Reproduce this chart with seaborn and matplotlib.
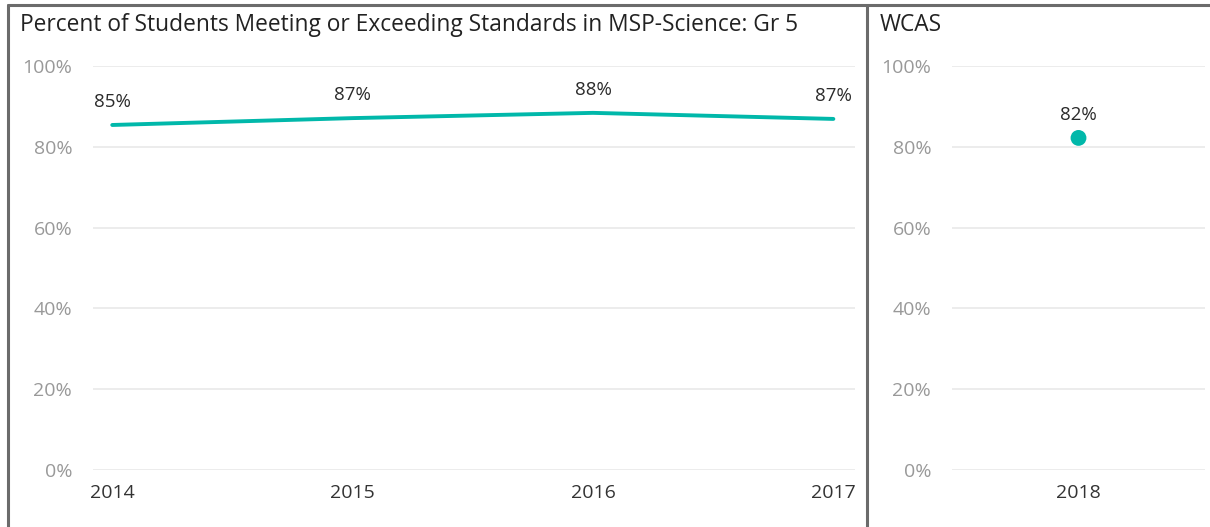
import matplotlib.pyplot as plt
import pandas as pd
import seaborn as sns
from matplotlib.lines import Line2D
from matplotlib.ticker import FuncFormatter

sns.set_style("white")
plt.rcParams["font.family"] = ["Open Sans", "DejaVu Sans"]

# Data
msp_years = ["2014", "2015", "2016", "2017"]
msp_pct = [85.4, 87.1, 88.4, 86.9]
msp_labels = ["85%", "87%", "88%", "87%"]
wcas_years = ["2018"]
wcas_pct = [82.2]
wcas_labels = ["82%"]
y_ticks = [0, 20, 40, 60, 80, 100]

msp = pd.DataFrame({"year": msp_years, "pct": msp_pct})
wcas = pd.DataFrame({"year": wcas_years, "pct": wcas_pct})

teal = "#01B8AA"
W, H = 1210, 527
fig = plt.figure(figsize=(W / 100, H / 100), dpi=100)


def style_axis(ax):
    ax.set_ylim(0, 100)
    ax.set_yticks(y_ticks)
    ax.yaxis.set_major_formatter(FuncFormatter(lambda v, p: f"{v:.0f}%"))
    ax.grid(axis="y", color="#e9e9e9", linewidth=1.2)
    ax.set_axisbelow(True)
    for s in ax.spines.values():
        s.set_visible(False)
    ax.tick_params(axis="y", colors="#999999", labelsize=14, length=0, pad=15)
    ax.tick_params(axis="x", colors="#333333", labelsize=14, length=0, pad=10)
    ax.set_xlabel("")
    ax.set_ylabel("")


# Left panel: MSP-Science line
ax1 = fig.add_axes([93 / W, 1 - 470 / H, 762 / W, 404 / H])
sns.lineplot(data=msp, x="year", y="pct", color=teal, linewidth=2.8, ax=ax1, sort=False)
ax1.set_xlim(-0.08, 3.09)
style_axis(ax1)
for i, (v, lab) in enumerate(zip(msp_pct, msp_labels)):
    ax1.annotate(lab, (i, v), xytext=(0, 10), textcoords="offset points",
                 ha="center", va="bottom", fontsize=13.5, color="#2b2b2b")

# Right panel: WCAS single point
ax2 = fig.add_axes([952 / W, 1 - 470 / H, 253 / W, 404 / H])
sns.scatterplot(data=wcas, x="year", y="pct", color=teal, s=130, ax=ax2, edgecolor="none")
ax2.set_xlim(-0.5, 0.5)
style_axis(ax2)
for i, (v, lab) in enumerate(zip(wcas_pct, wcas_labels)):
    ax2.annotate(lab, (i, v), xytext=(0, 10), textcoords="offset points",
                 ha="center", va="bottom", fontsize=13.5, color="#2b2b2b")

# Titles
fig.text(20 / W, 1 - 25 / H, "Percent of Students Meeting or Exceeding Standards in MSP-Science: Gr 5",
         fontsize=16.4, color="#222222", va="center", ha="left")
fig.text(880 / W, 1 - 25 / H, "WCAS", fontsize=16.4, color="#222222", va="center", ha="left")

# Panel borders
border = dict(color="#6b6b6b", linewidth=2.2, transform=fig.transFigure)
fig.add_artist(Line2D([8 / W, 8 / W], [0, 1 - 5 / H], **border))
fig.add_artist(Line2D([867 / W, 867 / W], [0, 1 - 5 / H], **border))
fig.add_artist(Line2D([8 / W, 1], [1 - 5 / H, 1 - 5 / H], **border))

fig.savefig("out.png", dpi=100)
